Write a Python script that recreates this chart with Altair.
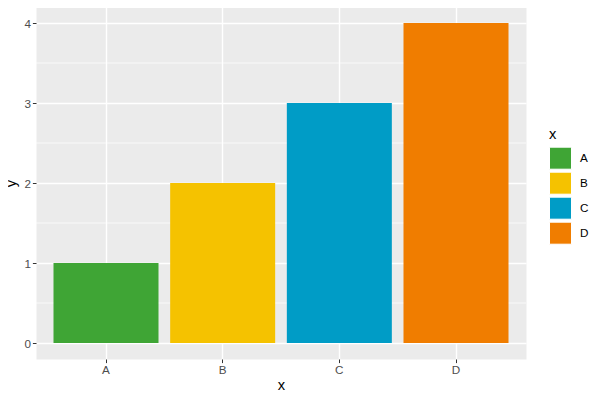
import altair as alt
import pandas as pd

categories = ["A", "B", "C", "D"]
values = [1, 2, 3, 4]
colors = ["#3FA535", "#F5C200", "#009CC6", "#F07D00"]
major_breaks = [0, 1, 2, 3, 4]
minor_breaks = [0.5, 1.5, 2.5, 3.5]

df = pd.DataFrame({"x": categories, "y": values})
minor = pd.DataFrame({"y": minor_breaks})

FONT = "Liberation Sans"
yscale = alt.Scale(domain=[-0.2, 4.2], nice=False, zero=False)

minor_layer = alt.Chart(minor).mark_rule(color="white", strokeWidth=0.7).encode(
    y=alt.Y("y:Q", scale=yscale)
)

bars = alt.Chart(df).mark_bar(strokeWidth=0).encode(
    x=alt.X(
        "x:N",
        scale=alt.Scale(paddingInner=0.1, paddingOuter=0.15),
        axis=alt.Axis(
            title="x", bandPosition=0.5, labelAngle=0,
            titleX=245, titleY=26, titleBaseline="middle",
        ),
    ),
    y=alt.Y(
        "y:Q", scale=yscale,
        axis=alt.Axis(
            title="y", values=major_breaks, format="d",
            titleX=-25, titleY=176, titleBaseline="middle",
        ),
    ),
    color=alt.Color(
        "x:N",
        scale=alt.Scale(domain=categories, range=colors),
        legend=alt.Legend(
            title="x", orient="none", legendX=513, legendY=120,
            symbolType="square", symbolSize=484, symbolStrokeColor="white",
            symbolStrokeWidth=1, symbolOpacity=1, rowPadding=-5, labelOffset=8,
            titlePadding=5, padding=0,
        ),
    ),
)

chart = (
    alt.layer(minor_layer, bars)
    .properties(
        width=490, height=352,
        autosize=alt.AutoSizeParams(type="none"),
        padding={"left": 28, "top": -1, "right": 64, "bottom": 32},
    )
    .configure_view(fill="#EBEBEB", stroke="transparent")
    .configure_axis(
        grid=True, gridColor="white", gridWidth=1.4, domain=False,
        tickColor="#333333", tickSize=3.6, tickWidth=1,
        labelColor="#4D4D4D", labelFontSize=11.7, labelFont=FONT, labelPadding=2,
        titleFont=FONT, titleFontSize=14.7, titleFontWeight="normal", titleColor="black",
    )
    .configure_legend(
        titleFont=FONT, titleFontSize=14.7, titleFontWeight="normal", titleColor="black",
        labelFont=FONT, labelFontSize=11.7, labelColor="black",
    )
)

chart.save("out.html", embed_options={"renderer": "svg", "actions": False})
